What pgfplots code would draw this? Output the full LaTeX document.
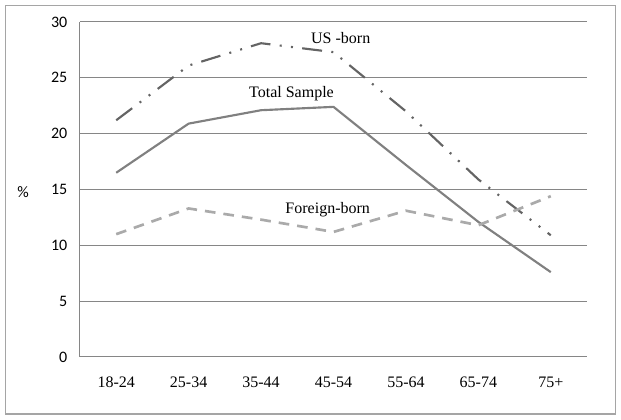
\documentclass[border=0pt]{standalone}
\usepackage{pgfplots}
\pgfplotsset{compat=1.18}
\usepackage{fontspec}
\setmainfont{Liberation Serif}
\newfontfamily\carlito{Carlito}

\definecolor{gridgray}{RGB}{134,134,134}
\definecolor{framegray}{RGB}{165,165,165}
\definecolor{usborn}{RGB}{100,100,100}
\definecolor{total}{RGB}{128,128,128}
\definecolor{foreign}{RGB}{170,170,170}

\begin{document}
\begin{tikzpicture}
\begin{axis}[
    scale only axis,
    width=380.25pt,
    height=251.25pt,
    xmin=-0.5, xmax=6.5,
    ymin=0, ymax=30,
    xtick={0,...,6},
    xticklabels={18-24,25-34,35-44,45-54,55-64,65-74,75+},
    ytick={0,5,...,30},
    ymajorgrids=true,
    grid style={gridgray, line width=0.75pt},
    axis x line*=bottom,
    axis y line*=left,
    axis line style={gridgray, line width=0.75pt},
    major tick length=0pt,
    xticklabel style={font=\fontsize{12}{14}\selectfont, anchor=center, yshift=-18.75pt},
    yticklabel style={font=\carlito\fontsize{12}{14}\selectfont, anchor=east, xshift=-6pt},
    /pgf/number format/assume math mode=true,
    ylabel={\carlito\fontsize{12}{14}\selectfont\%},
    ylabel style={rotate=-90, anchor=center, at={(axis description cs:-0.1124,0.4925)}},
    clip=false,
]
    % US-born
    \addplot[usborn, line width=1.6pt, line join=round,
        dash pattern=on 15pt off 7pt on 1.5pt off 7pt on 1.5pt off 7pt]
        coordinates {(0,21.2) (1,26.1) (2,28.1) (3,27.3) (4,22.0) (5,15.9) (6,10.9)};
    % Total sample
    \addplot[total, line width=1.6pt, line join=round]
        coordinates {(0,16.5) (1,20.9) (2,22.1) (3,22.4) (4,17.2) (5,12.1) (6,7.6)};
    % Foreign-born
    \addplot[foreign, line width=2pt, line join=round, dash pattern=on 8pt off 6pt]
        coordinates {(0,11.0) (1,13.3) (2,12.3) (3,11.2) (4,13.1) (5,11.8) (6,14.4)};

    \node[anchor=base, font=\fontsize{12}{14}\selectfont] at (axis cs:3.10,28.09) {US -born};
    \node[anchor=base, font=\fontsize{12}{14}\selectfont] at (axis cs:2.42,23.26) {Total Sample};
    \node[anchor=base, font=\fontsize{12}{14}\selectfont] at (axis cs:2.92,12.82) {Foreign-born};
\end{axis}
\pgfresetboundingbox
\draw[framegray, line width=1.1pt] (-55.9pt,-42.75pt) rectangle (401.8pt,263.8pt);
\path[use as bounding box] (-60pt,-47.25pt) rectangle (405.75pt,267.75pt);
\end{tikzpicture}
\end{document}
